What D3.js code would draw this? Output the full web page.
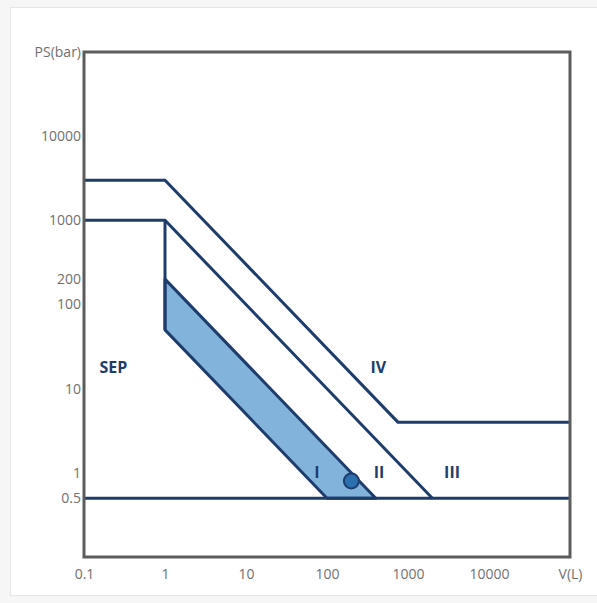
<!DOCTYPE html>
<html>
<head>
<meta charset="utf-8">
<script src="https://cdn.jsdelivr.net/npm/d3@7"></script>
<style>
  html, body { margin: 0; padding: 0; background: #f6f6f6; }
  svg { display: block; }
</style>
</head>
<body>
<svg id="chart" width="597" height="603"></svg>
<script>
// Axis ticks (log scales); the last tick of each axis carries the axis title
const xTicks = [0.1, 1, 10, 100, 1000, 10000, 100000];
const xTickLabels = ["0.1", "1", "10", "100", "1000", "10000", "V(L)"];
const yTicks = [0.5, 1, 10, 100, 200, 1000, 10000, 100000];
const yTickLabels = ["0.5", "1", "10", "100", "200", "1000", "10000", "PS(bar)"];

// Category boundaries as [V (L), PS (bar)] points
const boundaryIV = [[0.1, 3000], [1, 3000], [750, 4], [100000, 4]];
const boundaryIII = [[0.1, 1000], [1, 1000], [2000, 0.5]];
const boundaryBase = [[0.1, 0.5], [100000, 0.5]];
const boundaryVertical = [[1, 1000], [1, 50]];
// Category I band: between PS·V = 200 and PS·V = 50
const bandI = [[1, 200], [400, 0.5], [100, 0.5], [1, 50]];

// Operating point
const pointV = 200;
const pointPS = 0.8;

// Category labels, anchored in data coordinates
const catNames = ["SEP", "IV", "I", "II", "III"];
const catV = [0.23, 430, 75, 440, 3500];
const catPS = [18, 18, 1.03, 1.03, 1.03];

const svg = d3.select("#chart");
const navy = "#1e3d6c";
const frameColor = "#5c5c5c";
const textGray = "#707070";

// Card background
svg.append("rect")
  .attr("x", 10.5).attr("y", 7.5)
  .attr("width", 620).attr("height", 588)
  .attr("fill", "#ffffff")
  .attr("stroke", "#e6e6e6");

const plotLeft = 84, plotRight = 570, plotTop = 52, plotBottom = 557;
const x = d3.scaleLog().domain([0.1, 100000]).range([plotLeft, plotRight]);
const y = d3.scaleLog().domain([0.1, 100000]).range([plotBottom, plotTop]);

const line = d3.line().x(d => x(d[0])).y(d => y(d[1]));

// Category I band
svg.append("path")
  .attr("d", line(bandI) + "Z")
  .attr("fill", "#82b4db")
  .attr("stroke", navy)
  .attr("stroke-width", 3)
  .attr("stroke-linejoin", "round");

// Boundary lines
[boundaryIV, boundaryIII, boundaryBase, boundaryVertical].forEach(pts => {
  svg.append("path")
    .attr("d", line(pts))
    .attr("fill", "none")
    .attr("stroke", navy)
    .attr("stroke-width", 3)
    .attr("stroke-linejoin", "miter");
});

// Plot frame
svg.append("rect")
  .attr("x", plotLeft).attr("y", plotTop)
  .attr("width", plotRight - plotLeft).attr("height", plotBottom - plotTop)
  .attr("fill", "none")
  .attr("stroke", frameColor)
  .attr("stroke-width", 3);

// Axes
const xAxis = d3.axisBottom(x)
  .tickValues(xTicks)
  .tickFormat((d, i) => xTickLabels[i])
  .tickSize(0).tickPadding(12);
const gx = svg.append("g").attr("transform", `translate(0,${plotBottom})`).call(xAxis);

const yAxis = d3.axisLeft(y)
  .tickValues(yTicks)
  .tickFormat((d, i) => yTickLabels[i])
  .tickSize(0).tickPadding(3);
const gy = svg.append("g").attr("transform", `translate(${plotLeft},0)`).call(yAxis);

[gx, gy].forEach(g => {
  g.select(".domain").remove();
  g.selectAll("text")
    .attr("fill", textGray)
    .style("font-family", "'Open Sans', sans-serif")
    .style("font-size", "14px");
});

// Operating point
svg.append("circle")
  .attr("cx", x(pointV)).attr("cy", y(pointPS))
  .attr("r", 7.5)
  .attr("fill", "#2b6fae")
  .attr("stroke", navy)
  .attr("stroke-width", 2);

// Category labels
svg.append("g").selectAll("text")
  .data(catNames)
  .join("text")
  .attr("x", (d, i) => x(catV[i]))
  .attr("y", (d, i) => y(catPS[i]))
  .attr("text-anchor", "middle")
  .attr("dominant-baseline", "central")
  .attr("fill", navy)
  .style("font-family", "'Open Sans', sans-serif")
  .style("font-weight", "700")
  .style("font-size", "16px")
  .text(d => d);
</script>
</body>
</html>
